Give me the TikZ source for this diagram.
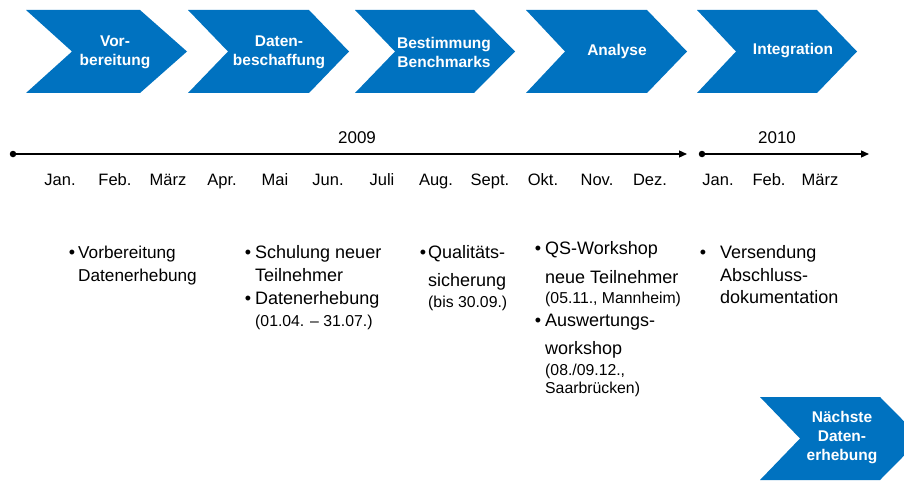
\documentclass[tikz,border=0pt]{standalone}
\usepackage{fontspec}
\setmainfont{Liberation Sans}
\usetikzlibrary{arrows.meta}
\definecolor{cblue}{RGB}{0,114,192}
\newcommand\mychevron[7]{%
  \fill[chev] (#1,#5) -- (#3,#5) -- (#4,{(#5+#6)/2}) -- (#3,#6) -- (#1,#6) -- (#2,{(#5+#6)/2}) -- cycle;
  \node[ctext] (#7) at ({(#2+#3)/2},{(#5+#6)/2}) {};}
\begin{document}
\begin{tikzpicture}[x=1pt,y=-1pt,
  chev/.style={fill=cblue},
  ctext/.style={text=white,font=\fontsize{15.5}{19}\selectfont\bfseries,align=center,inner sep=0},
  month/.style={font=\fontsize{16.5}{20}\selectfont,inner sep=0,anchor=base},
  year/.style={font=\fontsize{17}{20}\selectfont,inner sep=0},
  body/.style={font=\fontsize{18}{22}\selectfont,inner sep=0,anchor=base west},
  bodyA/.style={font=\fontsize{17.2}{21}\selectfont,inner sep=0,anchor=base west},
  small/.style={font=\fontsize{15.8}{19}\selectfont,inner sep=0,anchor=base west},
  bul/.style={font=\fontsize{18}{22}\selectfont,inner sep=0,anchor=base},
  dot/.style={circle,fill=black,inner sep=0,minimum size=6.5pt},
  tl/.style={line width=1.3pt,-{Triangle[length=8pt,width=7pt]}},
]
\useasboundingbox (0,0) rectangle (904,484);
% chevrons
\mychevron{26}{72}{140}{187}{10}{93}{s1}
\mychevron{188}{228}{309}{349}{10}{93}{s2}
\mychevron{355}{395}{474}{515}{10}{93}{s3}
\mychevron{526}{565}{647}{687}{10}{93}{s4}
\mychevron{697}{736}{817}{857}{10}{93}{s5}
\mychevron{760}{800}{880}{921}{397}{480}{s6}
\node[ctext] (c1) at (115,52) {Vor-\\bereitung};
\node[ctext] (c2) at (279,52) {Daten-\\beschaffung};
\node[ctext] (c3) at (444,52) {Bestimmung\\Benchmarks};
\node[ctext] (c4) at (617,51) {Analyse};
\node[ctext] (c5) at (793,51) {Integration};
\node[ctext] (c6) at (842,438) {Nächste\\Daten-\\erhebung};
% timeline
\node[dot] (d1) at (13,154) {};
\coordinate (e1) at (687,154);
\draw[tl] (d1.center) -- (e1);
\node[dot] (d2) at (702,154) {};
\coordinate (e2) at (869,154);
\draw[tl] (d2.center) -- (e2);
\node[year] (y1) at (357,138) {2009};
\node[year] (y2) at (777,138) {2010};
\node[month] (m1) at (60,185) {Jan.};
\node[month] (m2) at (115,185) {Feb.};
\node[month] (m3) at (168,185) {März};
\node[month] (m4) at (222,185) {Apr.};
\node[month] (m5) at (275,185) {Mai};
\node[month] (m6) at (328,185) {Jun.};
\node[month] (m7) at (382,185) {Juli};
\node[month] (m8) at (436,185) {Aug.};
\node[month] (m9) at (490,185) {Sept.};
\node[month] (m10) at (543,185) {Okt.};
\node[month] (m11) at (597,185) {Nov.};
\node[month] (m12) at (650,185) {Dez.};
\node[month] (n1) at (718,185) {Jan.};
\node[month] (n2) at (769,185) {Feb.};
\node[month] (n3) at (820,185) {März};
% column 1
\node[bul] (b1) at (72,258) {•};
\node[bodyA] (t1a) at (78,258) {Vorbereitung};
\node[bodyA] (t1b) at (78,281) {Datenerhebung};
% column 2
\node[bul] (b2) at (248,258) {•};
\node[body] (t2a) at (255,258) {Schulung neuer};
\node[body] (t2b) at (255,281) {Teilnehmer};
\node[bul] (b3) at (248,304) {•};
\node[body] (t2c) at (255,304) {Datenerhebung};
\node[small] (t2d) at (255,326) {(01.04. – 31.07.)};
% column 3
\node[bul] (b4) at (423,258) {•};
\node[body] (t3a) at (428,258) {Qualitäts-};
\node[body] (t3b) at (428,286) {sicherung};
\node[small] (t3c) at (428,307) {(bis 30.09.)};
% column 4
\node[bul] (b5) at (538,254) {•};
\node[body] (t4a) at (545,254) {QS-Workshop};
\node[body] (t4b) at (545,283) {neue Teilnehmer};
\node[small] (t4c) at (545,303) {(05.11., Mannheim)};
\node[bul] (b6) at (538,326) {•};
\node[body] (t4d) at (545,326) {Auswertungs-};
\node[body] (t4e) at (545,354) {workshop};
\node[small] (t4f) at (545,375) {(08./09.12.,};
\node[small] (t4g) at (545,393) {Saarbrücken)};
% column 5
\node[bul] (b7) at (703,258) {•};
\node[body] (t5a) at (720,258) {Versendung};
\node[body] (t5b) at (720,281) {Abschluss-};
\node[body] (t5c) at (720,303) {dokumentation};
\end{tikzpicture}
\end{document}
